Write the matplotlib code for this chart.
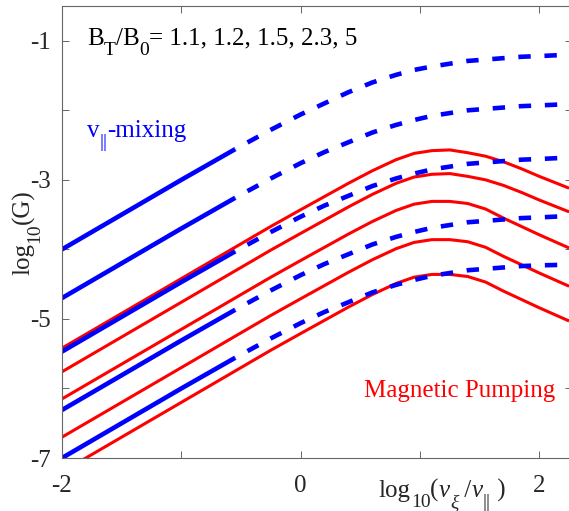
import matplotlib
matplotlib.use("Agg")
import matplotlib.pyplot as plt
from matplotlib.transforms import offset_copy

plt.rcParams["font.family"] = ["Liberation Serif", "DejaVu Serif"]

# log10(nu_xi / nu_par) sample points
X = [-2.0, -1.5, -1.0, -0.55, -0.25, 0.0, 0.2, 0.4, 0.6, 0.8, 0.95,
     1.1, 1.25, 1.4, 1.55, 1.7, 1.85, 2.0, 2.25]
SPLIT = 3  # blue curves are solid up to X[SPLIT], dashed after

# v_par-mixing curves (blue), B_T/B_0 = 1.1, 1.2, 1.5, 2.3, 5 (top to bottom)
blue_1 = [-4.00, -3.50, -3.00, -2.56, -2.28, -2.06, -1.90, -1.74, -1.60, -1.49, -1.42,
          -1.37, -1.33, -1.29, -1.27, -1.25, -1.23, -1.22, -1.20]
blue_2 = [-4.70, -4.20, -3.70, -3.26, -2.98, -2.76, -2.60, -2.46, -2.32, -2.21, -2.14,
          -2.08, -2.04, -2.00, -1.98, -1.96, -1.94, -1.93, -1.91]
blue_3 = [-5.47, -4.97, -4.47, -4.03, -3.75, -3.53, -3.37, -3.23, -3.09, -2.98, -2.91,
          -2.85, -2.81, -2.77, -2.75, -2.73, -2.71, -2.70, -2.68]
blue_4 = [-6.31, -5.81, -5.31, -4.87, -4.59, -4.37, -4.21, -4.07, -3.93, -3.82, -3.75,
          -3.69, -3.65, -3.61, -3.59, -3.57, -3.55, -3.54, -3.52]
blue_5 = [-7.00, -6.50, -6.00, -5.56, -5.28, -5.06, -4.90, -4.76, -4.62, -4.51, -4.44,
          -4.38, -4.34, -4.30, -4.28, -4.26, -4.24, -4.23, -4.22]

# magnetic pumping curves (red)
red_1 = [-5.42, -4.92, -4.42, -3.97, -3.67, -3.43, -3.24, -3.05, -2.87, -2.71, -2.62,
         -2.58, -2.57, -2.61, -2.66, -2.74, -2.84, -2.95, -3.12]
red_2 = [-5.76, -5.26, -4.76, -4.31, -4.01, -3.77, -3.58, -3.39, -3.21, -3.05, -2.96,
         -2.92, -2.91, -2.95, -3.00, -3.08, -3.18, -3.29, -3.46]
red_3 = [-6.15, -5.65, -5.15, -4.70, -4.40, -4.16, -3.97, -3.78, -3.60, -3.44, -3.35,
         -3.31, -3.31, -3.34, -3.42, -3.55, -3.67, -3.79, -3.98]
red_4 = [-6.70, -6.20, -5.70, -5.25, -4.95, -4.71, -4.52, -4.33, -4.15, -3.99, -3.90,
         -3.86, -3.86, -3.89, -3.97, -4.10, -4.22, -4.34, -4.53]
red_5 = [-7.20, -6.70, -6.20, -5.75, -5.45, -5.21, -5.02, -4.83, -4.65, -4.49, -4.40,
         -4.36, -4.36, -4.39, -4.47, -4.60, -4.72, -4.84, -5.03]

BLUE = [blue_1, blue_2, blue_3, blue_4, blue_5]
RED = [red_1, red_2, red_3, red_4, red_5]

XTICKS = [-2, -1, 0, 1, 2]
XTICKLABELS = ["-2", "", "0", "", "2"]
YTICKS = [-7, -6, -5, -4, -3, -2, -1]
YTICKLABELS = ["-7", "", "-5", "", "-3", "", "-1"]

FS = 18          # main font size
SUB_FS = 14      # subscript font size
SUB_DROP = 7.5   # subscript baseline drop, points

W, H = 569, 511
fig = plt.figure(figsize=(W / 100, H / 100), dpi=100)
ax = fig.add_axes([62 / W, 1 - 458 / H, (571.5 - 62) / W, (458 - 6) / H])


def rich_text(x, y, pieces, transform, color="black", vertical=False, center=False):
    """Lay out (text, is_sub, italic) pieces one after another, TeX-like subscripts."""
    renderer = fig.canvas.get_renderer()
    pt = fig.dpi / 72.0
    placed = []
    adv = 0.0
    for s, sub, italic in pieces:
        t = fig.text(0, 0, s, fontsize=SUB_FS if sub else FS, color=color,
                     style="italic" if italic else "normal",
                     rotation=90 if vertical else 0, rotation_mode="anchor",
                     ha="left", va="baseline")
        ext = t.get_window_extent(renderer)
        placed.append((t, adv, SUB_DROP * pt if sub else 0.0))
        adv += ext.height if vertical else ext.width
    shift = -adv / 2 if center else 0.0
    for t, a, d in placed:
        a += shift
        dx, dy = (d, a) if vertical else (a, -d)
        t.set_transform(offset_copy(transform, fig=fig, x=dx, y=dy, units="dots"))
        t.set_position((x, y))


for ys in RED:
    ax.plot(X, ys, color="#ff0000", lw=2.2, solid_capstyle="butt")

for ys in BLUE:
    ax.plot(X[:SPLIT + 1], ys[:SPLIT + 1], color="#0000ff", lw=3.3, solid_capstyle="butt")
    ax.plot(X[SPLIT:], ys[SPLIT:], color="#0000ff", lw=3.3,
            linestyle=(2.6, (2.7, 3.0)), dash_capstyle="butt")

ax.set_xlim(-2, 2.27)
ax.set_ylim(-7, -0.5)
ax.set_xticks(XTICKS)
ax.set_xticklabels(XTICKLABELS)
ax.set_yticks(YTICKS)
ax.set_yticklabels(YTICKLABELS)
ax.tick_params(direction="in", top=True, right=True, length=5, width=0.6,
               labelsize=FS, colors="0.3", labelcolor="0.15")
ax.tick_params(axis="x", pad=12)
ax.tick_params(axis="y", pad=8)
for sp in ax.spines.values():
    sp.set_color("0.4")
    sp.set_linewidth(0.8)

# axis labels
rich_text(29 / W, 1 - 232 / H,
          [("log", False, False), ("10", True, False), ("(G)", False, False)],
          fig.transFigure, color="0.15", vertical=True, center=True)
rich_text(442 / W, 1 - 497 / H,
          [("log", False, False), ("10", True, False), ("(", False, False),
           ("ν", False, True), ("ξ", True, True), (" /", False, False),
           ("ν", False, True), ("||", True, False), (" )", False, False)],
          fig.transFigure, color="0.15", center=True)

# annotations
rich_text(-1.79, -1.06,
          [("B", False, False), ("T", True, False), ("/B", False, False),
           ("0", True, False), ("= 1.1, 1.2, 1.5, 2.3, 5", False, False)],
          ax.transData)
rich_text(-1.79, -2.38,
          [("v", False, False), ("||", True, False), ("-mixing", False, False)],
          ax.transData, color="#0000ff")
ax.text(1.33, -6.12, "Magnetic Pumping", fontsize=FS, color="#ff0000",
        ha="center", va="baseline")

fig.savefig("out.png", dpi=100)
